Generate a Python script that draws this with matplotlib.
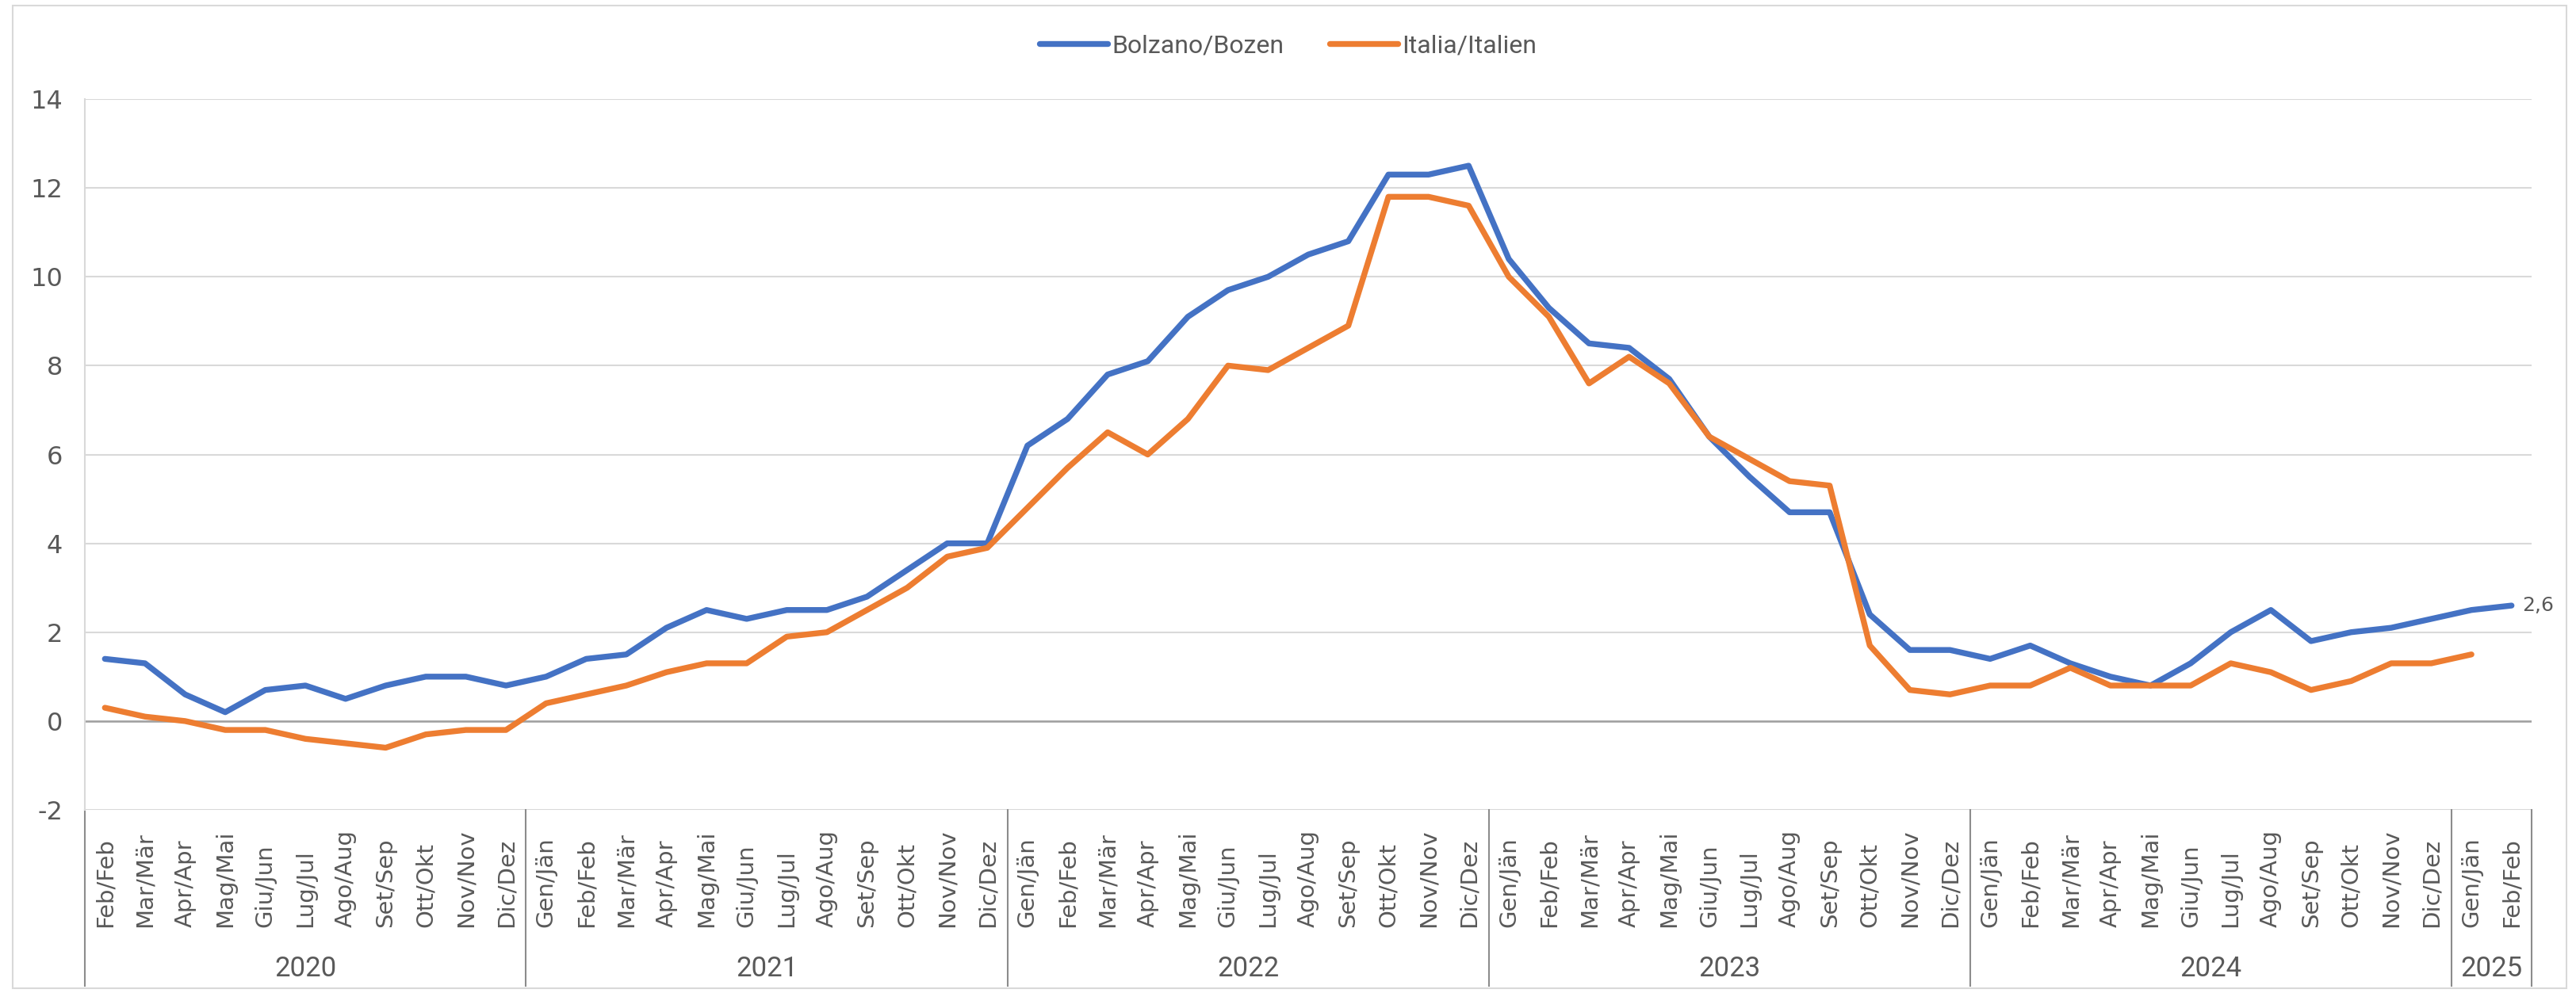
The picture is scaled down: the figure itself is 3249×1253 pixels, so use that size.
import matplotlib.pyplot as plt
from matplotlib.patches import Rectangle
from matplotlib import font_manager

# data: monthly values (Feb 2020 - Feb 2025)
years = ["2020", "2021", "2022", "2023", "2024", "2025"]
months_2020 = ["Feb/Feb", "Mar/Mär", "Apr/Apr", "Mag/Mai", "Giu/Jun", "Lug/Jul",
               "Ago/Aug", "Set/Sep", "Ott/Okt", "Nov/Nov", "Dic/Dez"]
months_full = ["Gen/Jän"] + months_2020
months_2025 = ["Gen/Jän", "Feb/Feb"]

bolzano = [1.4, 1.3, 0.6, 0.2, 0.7, 0.8, 0.5, 0.8, 1.0, 1.0, 0.8,
           1.0, 1.4, 1.5, 2.1, 2.5, 2.3, 2.5, 2.5, 2.8, 3.4, 4.0, 4.0,
           6.2, 6.8, 7.8, 8.1, 9.1, 9.7, 10.0, 10.5, 10.8, 12.3, 12.3, 12.5,
           10.4, 9.3, 8.5, 8.4, 7.7, 6.4, 5.5, 4.7, 4.7, 2.4, 1.6, 1.6,
           1.4, 1.7, 1.3, 1.0, 0.8, 1.3, 2.0, 2.5, 1.8, 2.0, 2.1, 2.3,
           2.5, 2.6]
italia = [0.3, 0.1, 0.0, -0.2, -0.2, -0.4, -0.5, -0.6, -0.3, -0.2, -0.2,
          0.4, 0.6, 0.8, 1.1, 1.3, 1.3, 1.9, 2.0, 2.5, 3.0, 3.7, 3.9,
          4.8, 5.7, 6.5, 6.0, 6.8, 8.0, 7.9, 8.4, 8.9, 11.8, 11.8, 11.6,
          10.0, 9.1, 7.6, 8.2, 7.6, 6.4, 5.9, 5.4, 5.3, 1.7, 0.7, 0.6,
          0.8, 0.8, 1.2, 0.8, 0.8, 0.8, 1.3, 1.1, 0.7, 0.9, 1.3, 1.3,
          1.5]

month_labels = months_2020 + months_full * 4 + months_2025
year_sizes = [len(months_2020), 12, 12, 12, 12, len(months_2025)]

# fonts
names = {f.name for f in font_manager.fontManager.ttflist}
narrow = "Liberation Sans Narrow" if "Liberation Sans Narrow" in names else "Roboto"
text_col = "#595959"

W, H = 3249, 1253
fig = plt.figure(figsize=(W / 100, H / 100), dpi=100)

# outer chart border
fig.patches.append(Rectangle((16 / W, 6 / H), (3237 - 16) / W, (1246 - 6) / H,
                             transform=fig.transFigure, fill=False,
                             edgecolor="#D9D9D9", lw=1.5))

ax = fig.add_axes([107 / W, 1 - 1022 / H, (3193 - 107) / W, (1022 - 125) / H])

x = range(len(bolzano))
ax.plot(x, bolzano, color="#4472C4", lw=5.3, label="Bolzano/Bozen",
        solid_joinstyle="round", solid_capstyle="round", zorder=3)
ax.plot(range(len(italia)), italia, color="#ED7D31", lw=5.3, label="Italia/Italien",
        solid_joinstyle="round", solid_capstyle="round", zorder=3)

ax.set_xlim(-0.5, len(month_labels) - 0.5)
ax.set_ylim(-2, 14)
ax.set_yticks(range(-2, 15, 2))
ax.set_yticklabels([str(v) for v in range(-2, 15, 2)], fontsize=23, color=text_col)
ax.tick_params(axis="y", length=0, pad=20)
ax.set_xticks([])
ax.grid(axis="y", color="#D9D9D9", lw=1.5)
ax.axhline(0, color="#A0A0A0", lw=1.8, zorder=2)
for s in ["top", "right", "bottom"]:
    ax.spines[s].set_visible(False)
ax.spines["left"].set_color("#D9D9D9")
ax.spines["left"].set_linewidth(1.5)

# category labels (rotated) and year groups
for i, lab in enumerate(month_labels):
    ax.text(i, -0.165, lab, transform=ax.get_xaxis_transform(), rotation=90,
            rotation_mode="anchor", ha="left", va="center", fontsize=21,
            color=text_col)

start = 0
bounds = [-0.5]
for yr, n in zip(years, year_sizes):
    mid = start + (n - 1) / 2
    ax.text(mid, -0.224, yr, transform=ax.get_xaxis_transform(), ha="center",
            va="center", fontsize=25, color=text_col, family=[narrow, "DejaVu Sans"])
    start += n
    bounds.append(start - 0.5)
for b in bounds:
    ax.plot([b, b], [0, -0.247], transform=ax.get_xaxis_transform(),
            color="#8C8C8C", lw=1.5, clip_on=False)

# end label
ax.annotate("2,6", (len(bolzano) - 1, bolzano[-1]), xytext=(10, 0),
            textcoords="offset points", va="center", ha="left", fontsize=18,
            color=text_col)

leg = fig.legend(loc="center", bbox_to_anchor=(0.5, 1 - 58 / H), ncol=2, frameon=False,
                 prop={"family": [narrow, "DejaVu Sans"], "size": 23},
                 handlelength=2.7, handletextpad=0.15, columnspacing=1.8)
for t in leg.get_texts():
    t.set_color(text_col)

plt.savefig("out.png", dpi=100)
